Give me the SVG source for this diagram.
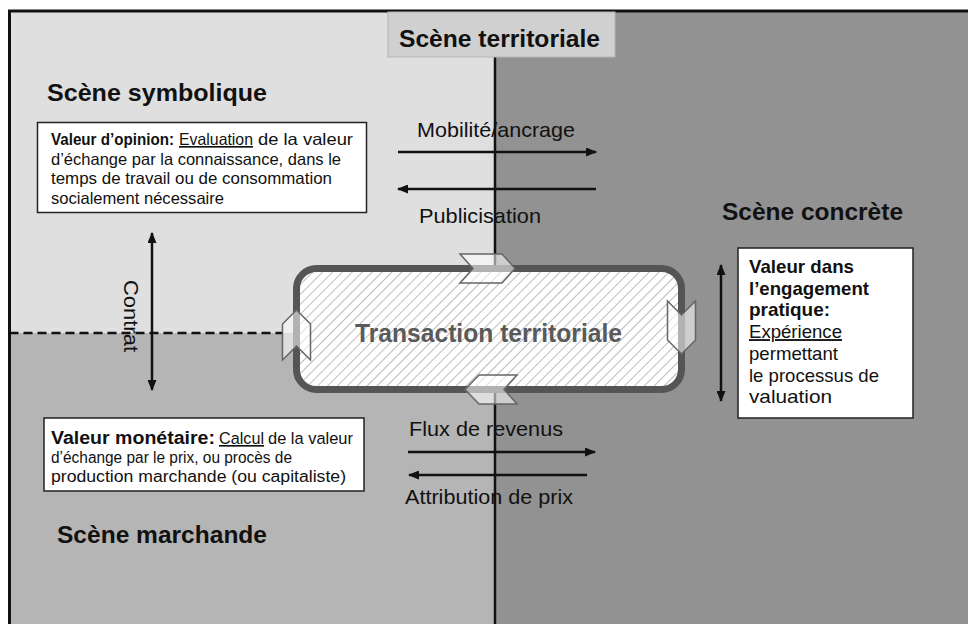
<svg xmlns="http://www.w3.org/2000/svg" width="968" height="624" viewBox="0 0 968 624">
<defs>
<style>
.t{font-family:"Liberation Sans",Arial,sans-serif;fill:#111}
.b{font-weight:bold}
.title{font-family:"Liberation Sans",Arial,sans-serif;font-weight:bold;font-size:24px;fill:#111}
.lbl{font-family:"Liberation Sans",Arial,sans-serif;font-size:21px;fill:#111}
.box{fill:#fff;stroke:#222;stroke-width:1.5}
.arr{stroke:#111;stroke-width:2.5;fill:none}
.chev{fill:#fff;fill-opacity:0.55;stroke:#666;stroke-width:1.5;stroke-linejoin:miter}
.u{text-decoration:underline}
</style>
<marker id="ah" markerWidth="11" markerHeight="9" refX="10" refY="4.5" orient="auto-start-reverse" markerUnits="userSpaceOnUse"><path d="M0,0 L11,4.5 L0,9 z" fill="#111"/></marker>
<pattern id="hatch" width="7" height="7" patternUnits="userSpaceOnUse" patternTransform="rotate(45)"><rect width="7" height="7" fill="#fff"/><line x1="0" y1="0" x2="0" y2="7" stroke="#bcbcbc" stroke-width="2"/></pattern>
</defs>

<g id="scenes">
<rect x="0" y="0" width="968" height="624" fill="#fff"/>
<rect id="scene-symbolique-bg" x="9.5" y="11" width="485.5" height="322" fill="#dfdfdf"/>
<rect id="scene-marchande-bg" x="9.5" y="333" width="485.5" height="291" fill="#b5b5b5"/>
<rect id="scene-concrete-bg" x="495" y="11" width="473" height="624" fill="#929292"/>
<path d="M9.5,624 V11 H968" fill="none" stroke="#111" stroke-width="3"/>
<line x1="495" y1="57" x2="495" y2="624" stroke="#111" stroke-width="2.5"/>
<line x1="9.5" y1="333" x2="283" y2="333" stroke="#111" stroke-width="2.5" stroke-dasharray="9 5"/>
</g>

<g id="scene-territoriale">
<rect x="388" y="12" width="227" height="45" fill="#d0d0d0" stroke="#b5b5b5" stroke-width="1"/>
<text class="title" x="399" y="47" textLength="201" lengthAdjust="spacingAndGlyphs">Scène territoriale</text>
</g>

<g id="scene-symbolique"><text class="title" x="47" y="101" textLength="220" lengthAdjust="spacingAndGlyphs">Scène symbolique</text></g>
<g id="scene-concrete"><text class="title" x="722" y="220" textLength="181" lengthAdjust="spacingAndGlyphs">Scène concrète</text></g>
<g id="scene-marchande"><text class="title" x="57" y="543" textLength="210" lengthAdjust="spacingAndGlyphs">Scène marchande</text></g>

<g id="valeur-opinion">
<rect class="box" x="37.5" y="122.5" width="329" height="90"/>
<text class="t b" x="51" y="145" font-size="16" textLength="123" lengthAdjust="spacingAndGlyphs">Valeur d’opinion:</text>
<text class="t u" x="179" y="145" font-size="16.5" textLength="74" lengthAdjust="spacingAndGlyphs">Evaluation</text>
<text class="t" x="258" y="145" font-size="16.5" textLength="95" lengthAdjust="spacingAndGlyphs">de la valeur</text>
<text class="t" x="51" y="164.5" font-size="16.5" textLength="290" lengthAdjust="spacingAndGlyphs">d’échange par la connaissance, dans le</text>
<text class="t" x="51" y="184" font-size="16.5" textLength="281" lengthAdjust="spacingAndGlyphs">temps de travail ou de consommation</text>
<text class="t" x="51" y="203.5" font-size="16.5" textLength="173" lengthAdjust="spacingAndGlyphs">socialement nécessaire</text>
</g>

<g id="valeur-monetaire">
<rect class="box" x="44" y="418" width="320" height="73"/>
<text class="t b" x="51" y="444" font-size="17.5" textLength="164" lengthAdjust="spacingAndGlyphs">Valeur monétaire:</text>
<text class="t u" x="219" y="444" font-size="16.3" textLength="45" lengthAdjust="spacingAndGlyphs">Calcul</text>
<text class="t" x="268" y="444" font-size="16.3" textLength="85" lengthAdjust="spacingAndGlyphs">de la valeur</text>
<text class="t" x="51" y="463" font-size="16" textLength="241" lengthAdjust="spacingAndGlyphs">d’échange par le prix, ou procès de</text>
<text class="t" x="51" y="482" font-size="16" textLength="295" lengthAdjust="spacingAndGlyphs">production marchande (ou capitaliste)</text>
</g>

<g id="valeur-engagement">
<rect class="box" x="738" y="248" width="175" height="170"/>
<text class="t b" x="749" y="273" font-size="18.5" textLength="105" lengthAdjust="spacingAndGlyphs">Valeur dans</text>
<text class="t b" x="749" y="294.7" font-size="18.5" textLength="120" lengthAdjust="spacingAndGlyphs">l’engagement</text>
<text class="t b" x="749" y="316.4" font-size="18.5" textLength="81" lengthAdjust="spacingAndGlyphs">pratique:</text>
<text class="t u" x="749" y="338.1" font-size="18.5" textLength="93" lengthAdjust="spacingAndGlyphs">Expérience</text>
<text class="t" x="749" y="359.8" font-size="18.5" textLength="89" lengthAdjust="spacingAndGlyphs">permettant</text>
<text class="t" x="749" y="381.5" font-size="18.5" textLength="130" lengthAdjust="spacingAndGlyphs">le processus de</text>
<text class="t" x="749" y="403.2" font-size="18.5" textLength="83" lengthAdjust="spacingAndGlyphs">valuation</text>
</g>

<g id="transaction-territoriale">
<rect x="296.5" y="268.5" width="385" height="121" rx="20" fill="url(#hatch)" stroke="#555" stroke-width="7"/>
<text x="355" y="342" font-family="'Liberation Sans',Arial,sans-serif" font-weight="bold" font-size="25" fill="#5a5a5a" textLength="267" lengthAdjust="spacingAndGlyphs">Transaction territoriale</text>
<polygon class="chev" points="460,254 502,254 515,268.5 502,283 460,283 473,268.5"/>
<polygon class="chev" points="465,389.5 479,375 517,375 504,389.5 517,404 479,404"/>
<polygon class="chev" points="296.5,310 310.5,324 310.5,360 296.5,346 282.5,360 282.5,324"/>
<polygon class="chev" points="667.5,301 681.5,315 695.5,301 695.5,340 681.5,354 667.5,340"/>
</g>

<g id="connectors">
<path class="arr" d="M398,152 H596" marker-end="url(#ah)"/>
<path class="arr" d="M596,189 H398" marker-end="url(#ah)"/>
<path class="arr" d="M408,452 H595" marker-end="url(#ah)"/>
<path class="arr" d="M587,475 H409" marker-end="url(#ah)"/>
<path class="arr" d="M152,233 V390" marker-start="url(#ah)" marker-end="url(#ah)"/>
<path class="arr" d="M721,265 V401" marker-start="url(#ah)" marker-end="url(#ah)"/>
<text class="lbl" x="417" y="137" textLength="158" lengthAdjust="spacingAndGlyphs">Mobilité/ancrage</text>
<text class="lbl" x="419" y="223" textLength="122" lengthAdjust="spacingAndGlyphs">Publicisation</text>
<text class="lbl" x="409" y="436" textLength="154" lengthAdjust="spacingAndGlyphs">Flux de revenus</text>
<text class="lbl" x="405" y="504" textLength="168" lengthAdjust="spacingAndGlyphs">Attribution de prix</text>
<text class="lbl" transform="translate(124,280) rotate(90)" font-size="20" textLength="72" lengthAdjust="spacingAndGlyphs">Contrat</text>
</g>
</svg>
